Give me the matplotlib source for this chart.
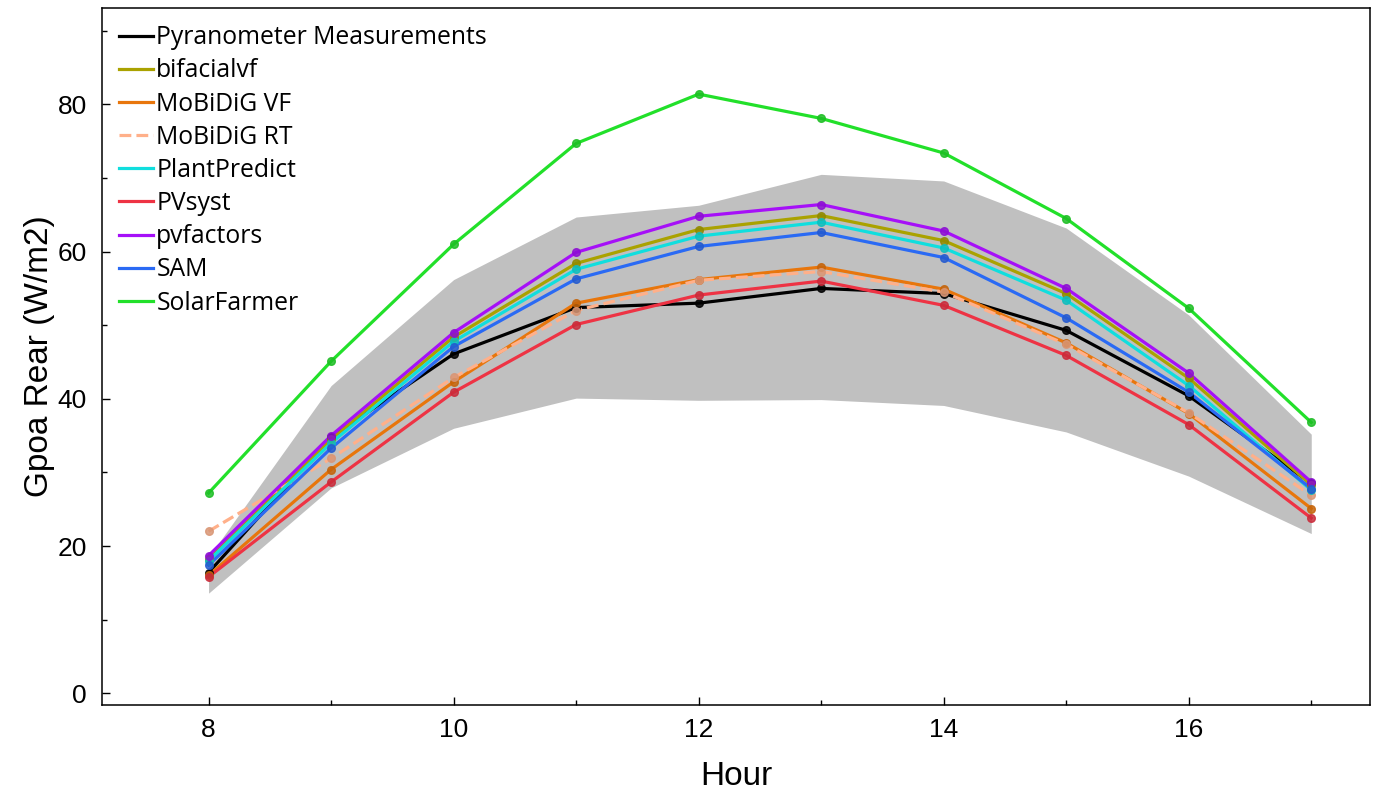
import numpy as np
import matplotlib
matplotlib.use("Agg")
import matplotlib.pyplot as plt
import matplotlib.colors as mcolors

hours = [8, 9, 10, 11, 12, 13, 14, 15, 16, 17]

band_low = [13.6, 27.9, 36.0, 40.1, 39.8, 39.9, 39.1, 35.5, 29.5, 21.7]
band_high = [18.5, 41.8, 56.2, 64.7, 66.3, 70.5, 69.6, 63.2, 51.4, 35.2]

pyranometer = [16.4, 34.8, 46.1, 52.4, 53.0, 55.0, 54.3, 49.3, 40.4, 28.5]
bifacialvf = [18.2, 34.5, 48.4, 58.4, 63.0, 64.9, 61.5, 54.3, 42.8, 28.3]
mobidig_vf = [16.0, 30.4, 42.3, 53.0, 56.2, 57.9, 54.9, 47.6, 38.0, 25.1]
mobidig_rt = [22.0, 31.9, 42.9, 52.0, 56.1, 57.3, 54.5, 47.4, 38.1, 26.9]
plantpredict = [18.0, 34.0, 47.8, 57.6, 62.1, 64.0, 60.5, 53.4, 41.8, 27.6]
pvsyst = [15.8, 28.7, 40.9, 50.1, 54.1, 56.0, 52.7, 45.9, 36.5, 23.8]
pvfactors = [18.7, 35.0, 49.0, 59.9, 64.8, 66.4, 62.8, 55.0, 43.5, 28.7]
sam = [17.4, 33.3, 47.1, 56.3, 60.7, 62.6, 59.2, 51.0, 40.9, 27.8]
solarfarmer = [27.2, 45.1, 61.0, 74.7, 81.4, 78.1, 73.4, 64.5, 52.3, 36.8]

series = [
    ("Pyranometer Measurements", pyranometer, "#000000", "-"),
    ("bifacialvf", bifacialvf, "#aaa200", "-"),
    ("MoBiDiG VF", mobidig_vf, "#e8760c", "-"),
    ("MoBiDiG RT", mobidig_rt, "#ffb08a", "--"),
    ("PlantPredict", plantpredict, "#10dede", "-"),
    ("PVsyst", pvsyst, "#ee3344", "-"),
    ("pvfactors", pvfactors, "#a610f8", "-"),
    ("SAM", sam, "#2a6af4", "-"),
    ("SolarFarmer", solarfarmer, "#22e02a", "-"),
]

fig = plt.figure(figsize=(13.8, 7.92), dpi=100)
ax = fig.add_axes([0.0739, 0.1098, 0.9189, 0.8801])

ax.fill_between(hours, band_low, band_high, color="#c0c0c0", linewidth=0, zorder=1)

for label, vals, color, ls in series:
    ax.plot(hours, vals, color=color, linestyle=ls, linewidth=2.3, label=label, zorder=3)
    dark = np.array(mcolors.to_rgb(color)) * 0.85
    ax.plot(hours, vals, linestyle="none", marker="o", markersize=5.5,
            color=dark, alpha=0.85, zorder=4)

ax.set_xlim(7.13, 17.48)
ax.set_ylim(-1.6, 93.1)
ax.set_xticks([8, 10, 12, 14, 16])
ax.set_xticks([9, 11, 13, 15, 17], minor=True)
ax.set_yticks([0, 20, 40, 60, 80])
ax.set_yticks([10, 30, 50, 70, 90], minor=True)
ax.tick_params(which="both", direction="in", width=1.0)
ax.tick_params(which="major", length=6, labelsize=19)
ax.tick_params(axis="x", which="major", pad=9)
ax.tick_params(axis="y", which="major", pad=11)
ax.tick_params(which="minor", length=3.5)
for t in ax.get_xticklabels() + ax.get_yticklabels():
    t.set_family("Liberation Sans")
for s in ax.spines.values():
    s.set_linewidth(1.1)

ax.set_xlabel("Hour", fontsize=24, family="Liberation Sans", labelpad=14)
ax.set_ylabel("Gpoa Rear (W/m2)", fontsize=24, family="Liberation Sans", labelpad=2)

ax.legend(loc="upper left", frameon=False, prop={"family": "Open Sans", "size": 17.8},
          handlelength=1.35, handletextpad=0.15, labelspacing=0.33,
          borderaxespad=0.25, borderpad=0.45)

fig.savefig("out.png", dpi=100)
